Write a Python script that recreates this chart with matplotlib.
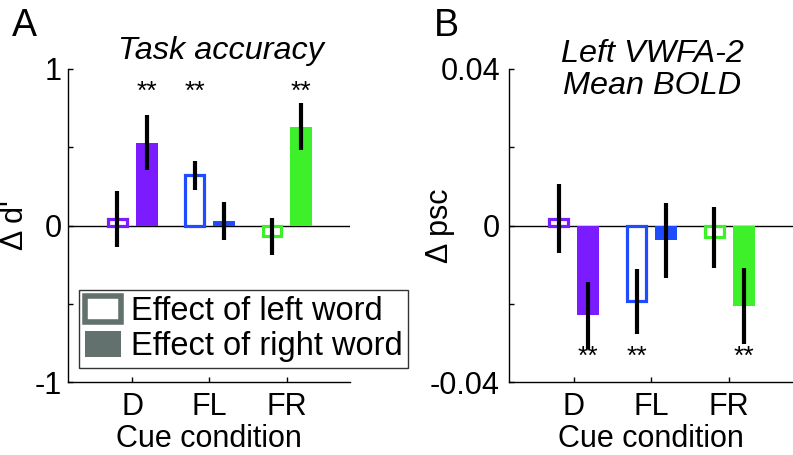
import matplotlib
matplotlib.use('Agg')
import matplotlib.pyplot as plt
from matplotlib.patches import Patch

plt.rcParams['font.family'] = ['Liberation Sans', 'DejaVu Sans']
plt.rcParams['axes.unicode_minus'] = False

conditions = ['D', 'FL', 'FR']
colors = ['#7a1cff', '#1f4cff', '#3ef02a']

# panel A: task accuracy (delta d')
acc_left = [0.04, 0.32, -0.07]
acc_left_err = [0.18, 0.09, 0.12]
acc_right = [0.53, 0.03, 0.63]
acc_right_err = [0.175, 0.12, 0.15]
acc_stars = [(1, 'right'), (2, 'left'), (3, 'right')]

# panel B: left VWFA-2 mean BOLD (delta psc)
bold_left = [0.0017, -0.0194, -0.003]
bold_left_err = [0.0088, 0.0083, 0.0078]
bold_right = [-0.023, -0.0038, -0.0205]
bold_right_err = [0.0085, 0.0095, 0.0097]
bold_stars = [(1, 'right'), (2, 'left'), (3, 'right')]

W, H = 793, 455
fig = plt.figure(figsize=(W / 100, H / 100), dpi=100)
FS = 22


def px_axes(x0, y0, x1, y1):
    return fig.add_axes([x0 / W, 1 - y1 / H, (x1 - x0) / W, (y1 - y0) / H])


def draw(ax, left, left_err, right, right_err, stars, star_y, lim, ticks, ticklabels, ypad):
    xs = [1, 2, 3]
    off = 0.19
    for i, x in enumerate(xs):
        ax.bar(x - off, left[i], width=0.245, color='white', edgecolor=colors[i],
               linewidth=2.3, zorder=2)
        ax.bar(x + off, right[i], width=0.285, color=colors[i], linewidth=0, zorder=2)
        ax.vlines(x - off, left[i] - left_err[i], left[i] + left_err[i], color='k',
                  linewidth=3.0, zorder=3)
        ax.vlines(x + off, right[i] - right_err[i], right[i] + right_err[i], color='k',
                  linewidth=3.0, zorder=3)
    for c, side in stars:
        x = c - off if side == 'left' else c + off
        ax.text(x, star_y, '**', ha='center', va='center', fontsize=19)
    ax.axhline(0, color='k', linewidth=1.0, zorder=1)
    ax.set_xlim(0.17, 3.82)
    ax.set_ylim(-lim, lim)
    ax.set_xticks(xs)
    ax.set_xticklabels(conditions, fontsize=FS)
    ax.set_yticks(ticks)
    ax.set_yticklabels(ticklabels, fontsize=FS)
    ax.tick_params(direction='in', length=3.5, width=1)
    ax.tick_params(axis='x', pad=7)
    ax.tick_params(axis='y', pad=ypad)
    for s in ['top', 'right']:
        ax.spines[s].set_visible(False)
    for s in ['left', 'bottom']:
        ax.spines[s].set_linewidth(1.0)
    ax.set_xlabel('Cue condition', fontsize=FS, va='center')
    ax.xaxis.set_label_coords(0.5, -0.182)
    ax.patch.set_alpha(0)


axA = px_axes(68, 69, 350, 382)
draw(axA, acc_left, acc_left_err, acc_right, acc_right_err, acc_stars, 0.855, 1.0,
     [-1, -0.5, 0, 0.5, 1], ['-1', '', '0', '', '1'], 4.5)
axA.set_ylabel("\u0394 d'", fontsize=FS, va='center')
axA.yaxis.set_label_coords((15 - 68) / 282, 0.5)

axB = px_axes(509, 69, 793, 382)
draw(axB, bold_left, bold_left_err, bold_right, bold_right_err, bold_stars, -0.0335, 0.04,
     [-0.04, -0.02, 0, 0.02, 0.04], ['-0.04', '', '0', '', '0.04'], 6.5)
axB.set_ylabel('\u0394 psc', fontsize=FS, va='center')
axB.yaxis.set_label_coords((440 - 509) / 284, 0.5)

fig.text(221 / W, 1 - 51 / H, 'Task accuracy', fontsize=23.3, style='italic',
         ha='center', va='center')
fig.text(652 / W, 1 - 70 / H, 'Left VWFA-2\nMean BOLD', fontsize=23.3, style='italic',
         ha='center', va='center', linespacing=1.12)
fig.text(12 / W, 1 - 36 / H, 'A', fontsize=27, va='baseline')
fig.text(434 / W, 1 - 36 / H, 'B', fontsize=27, va='baseline')

handles = [Patch(facecolor='white', edgecolor='#62706e', linewidth=4),
           Patch(facecolor='#62706e', edgecolor='#62706e', linewidth=0)]
leg = fig.legend(handles, ['Effect of left word', 'Effect of right word'],
                 loc='upper left', bbox_to_anchor=(79 / W, 1 - 290 / H),
                 bbox_transform=fig.transFigure, fontsize=23.5, frameon=True,
                 fancybox=False, edgecolor='k', handlelength=1.1, handleheight=0.85,
                 handletextpad=0.3, labelspacing=0.12, borderpad=0.18,
                 borderaxespad=0)
leg.get_frame().set_linewidth(1.0)
leg.set_zorder(5)

fig.savefig('out.png', dpi=100)
